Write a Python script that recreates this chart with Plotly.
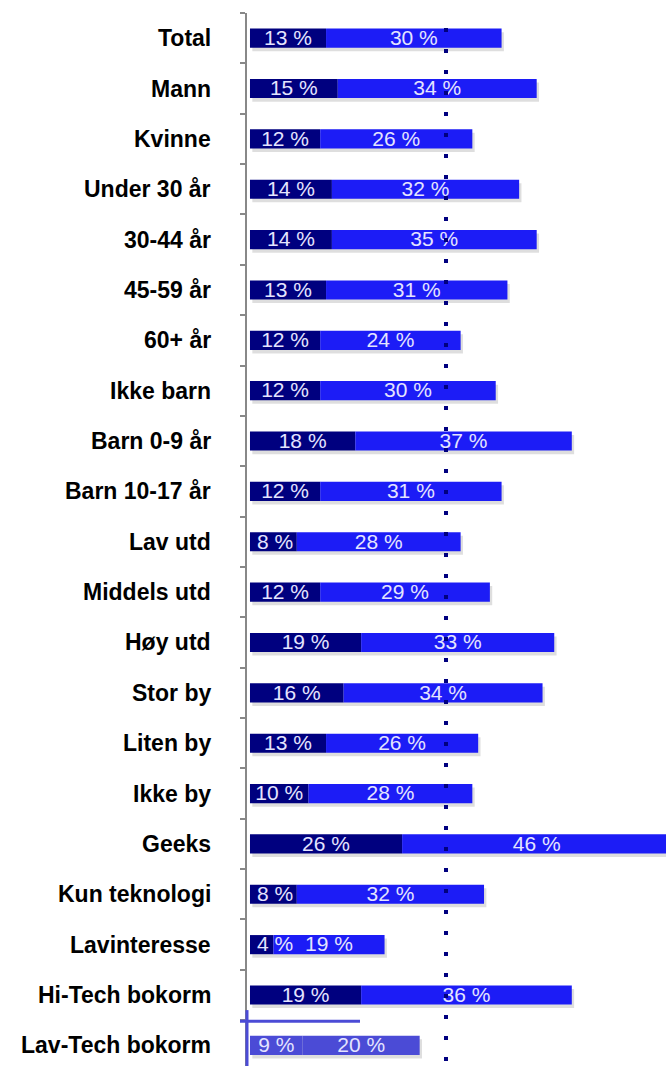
import plotly.graph_objects as go

categories = ["Total", "Mann", "Kvinne", "Under 30 år", "30-44 år", "45-59 år", "60+ år",
              "Ikke barn", "Barn 0-9 år", "Barn 10-17 år", "Lav utd", "Middels utd", "Høy utd",
              "Stor by", "Liten by", "Ikke by", "Geeks", "Kun teknologi", "Lavinteresse",
              "Hi-Tech bokorm", "Lav-Tech bokorm"]
share_a = [13, 15, 12, 14, 14, 13, 12, 12, 18, 12, 8, 12, 19, 16, 13, 10, 26, 8, 4, 19, 9]
share_b = [30, 34, 26, 32, 35, 31, 24, 30, 37, 31, 28, 29, 33, 34, 26, 28, 46, 32, 19, 36, 20]
reference_level = 33.5

DARK = "#00007f"
BLUE = "#1c1cf6"
LIGHT = "#4b4bd6"
TXT = "#e4e4ff"
FONT = "Liberation Sans, Arial"
n = len(categories)
ypos = list(range(n))
col_a = [DARK] * (n - 1) + [LIGHT]
col_b = [BLUE] * (n - 1) + [LIGHT]
totals = [a + b for a, b in zip(share_a, share_b)]
W = 0.38

fig = go.Figure()
# soft shadow
fig.add_trace(go.Bar(
    y=ypos, x=totals, base=0.4, orientation="h", width=W, offset=-W / 2 + 0.07,
    marker=dict(color="rgba(0,0,0,0.13)", line=dict(width=0)), hoverinfo="skip"))
fig.add_trace(go.Bar(
    y=ypos, x=share_a, base=0, orientation="h", width=W, offset=-W / 2,
    marker=dict(color=col_a, line=dict(width=0))))
fig.add_trace(go.Bar(
    y=ypos, x=share_b, base=share_a, orientation="h", width=W, offset=-W / 2,
    marker=dict(color=col_b, line=dict(width=0))))

# value labels centred in each segment
fig.add_trace(go.Scatter(
    y=[y + 0.03 for y in ypos], x=[max(a / 2, 4.3) for a in share_a], mode="text",
    text=[f"{v} %" for v in share_a], textposition="middle center", cliponaxis=False,
    textfont=dict(family=FONT, size=21, color=TXT), hoverinfo="skip"))
fig.add_trace(go.Scatter(
    y=[y + 0.03 for y in ypos], x=[a + b / 2 for a, b in zip(share_a, share_b)], mode="text",
    text=[f"{v} %" for v in share_b], textposition="middle center", cliponaxis=False,
    textfont=dict(family=FONT, size=21, color=TXT), hoverinfo="skip"))

# category labels
for i, c in enumerate(categories):
    fig.add_annotation(x=(213 - 247) / 419, xref="paper", y=i, yref="y", text=f"<b>{c}</b>",
                       showarrow=False, xanchor="right", yanchor="middle",
                       font=dict(family=FONT, size=23, color="#000000"))

# dotted reference line
fig.add_shape(type="line", xref="x", yref="paper", x0=reference_level, x1=reference_level,
              y0=1.0 - 15 / 1053, y1=0, line=dict(color="#00007f", width=4, dash="4px,17px"),
              layer="above")
# blue artifacts near last bar
fig.add_shape(type="line", xref="paper", yref="y", x0=0.0, x1=0.0, y0=19.3, y1=20.41,
              line=dict(color=LIGHT, width=3), layer="above")
fig.add_shape(type="line", xref="paper", yref="y", x0=(240 - 247) / 419, x1=(360 - 247) / 419,
              y0=19.52, y1=19.52, line=dict(color=LIGHT, width=3), layer="above")

fig.update_layout(
    width=666, height=1066, barmode="overlay", showlegend=False,
    margin=dict(l=247, r=0, t=13, b=0),
    paper_bgcolor="white", plot_bgcolor="white",
    xaxis=dict(range=[-0.51, 71.1], visible=False, fixedrange=True),
    yaxis=dict(range=[20.41, -0.5], tickvals=[i - 0.5 for i in range(n + 1)],
               showticklabels=False, ticks="outside", ticklen=5, tickwidth=2,
               tickcolor="#888888", showline=True, linecolor="#888888", linewidth=2,
               showgrid=False, zeroline=False, fixedrange=True),
)
fig.write_html("out.html", config={"displayModeBar": False},
               post_script="document.body.style.margin='0px';document.body.style.overflow='hidden';")
